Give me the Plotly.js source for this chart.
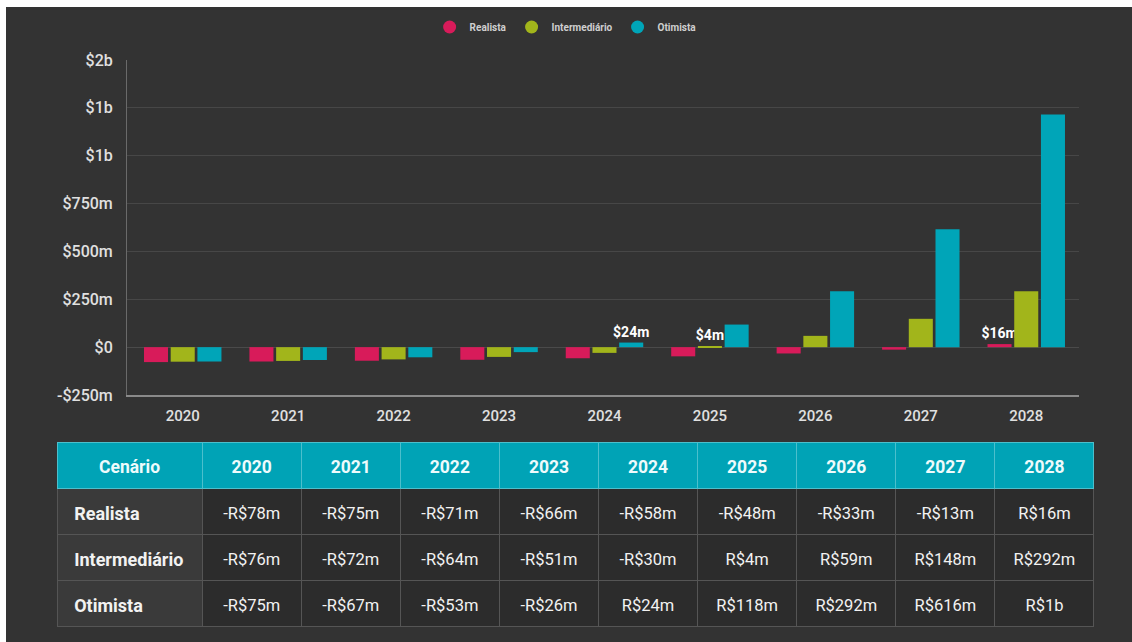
<!DOCTYPE html>
<html>
<head>
<meta charset="utf-8">
<script src="https://cdn.plot.ly/plotly-3.0.1.min.js"></script>
<style>
  html, body { margin: 0; padding: 0; background: #ffffff; width: 1132px; height: 642px; overflow: hidden; }
  #chart { position: absolute; left: 6px; top: 7px; width: 1126px; height: 635px; }
  #chart .scrollbar-kit { display: none !important; }
</style>
</head>
<body>
<div id="chart"></div>
<script>
// ---- data ----
const years = ['2020', '2021', '2022', '2023', '2024', '2025', '2026', '2027', '2028'];
const seriesNames = ['Realista', 'Intermediário', 'Otimista'];
const realista = [-78e6, -75e6, -71e6, -66e6, -58e6, -48e6, -33e6, -13e6, 16e6];
const intermediario = [-76e6, -72e6, -64e6, -51e6, -30e6, 4e6, 59e6, 148e6, 292e6];
const otimista = [-75e6, -67e6, -53e6, -26e6, 24e6, 118e6, 292e6, 616e6, 1215e6];
const barLabelsRealista = ['', '', '', '', '', '', '', '', '$16m'];
const barLabelsIntermediario = ['', '', '', '', '', '$4m', '', '', ''];
const barLabelsOtimista = ['', '', '', '', '$24m', '', '', '', ''];
const yTickVals = [-250e6, 0, 250e6, 500e6, 750e6, 1000e6, 1250e6, 1500e6];
const yTickText = ['-$250m', '$0', '$250m', '$500m', '$750m', '$1b', '$1b', '$2b'];
const tableHeader = ['Cenário', '2020', '2021', '2022', '2023', '2024', '2025', '2026', '2027', '2028'];
const tableRealista = ['-R$78m', '-R$75m', '-R$71m', '-R$66m', '-R$58m', '-R$48m', '-R$33m', '-R$13m', 'R$16m'];
const tableIntermediario = ['-R$76m', '-R$72m', '-R$64m', '-R$51m', '-R$30m', 'R$4m', 'R$59m', 'R$148m', 'R$292m'];
const tableOtimista = ['-R$75m', '-R$67m', '-R$53m', '-R$26m', 'R$24m', 'R$118m', 'R$292m', 'R$616m', 'R$1b'];

const colors = ['#d81b5a', '#a2b51b', '#00a5b8'];
const FONT = 'Roboto, "Noto Sans", sans-serif';

function barTrace(name, values, labels, color) {
  return {
    type: 'bar', name: name, x: years, y: values,
    marker: { color: color },
    text: labels, textposition: 'outside', cliponaxis: false, constraintext: 'none',
    textfont: { family: FONT, size: 14, color: '#ffffff', weight: 'bold' },
    showlegend: false, hoverinfo: 'x+y+name'
  };
}
function legendTrace(name, color) {
  return {
    type: 'scatter', mode: 'markers', name: name, x: [years[0]], y: [null],
    marker: { color: color, size: 13, symbol: 'circle' }, hoverinfo: 'skip'
  };
}

const PAD = '\u2002';
const nameCol = seriesNames.map(s => PAD + '<b>' + s + '</b>');
const yearCols = years.map((_, i) => [tableRealista[i], tableIntermediario[i], tableOtimista[i]]);
const blank3 = ['', '', ''];
const colWidths = [145].concat(years.map(() => 99));
const clear = 'rgba(0,0,0,0)';

function textTable(yDomain, headerValues, cellCols, sizes) {
  return {
    type: 'table',
    domain: { x: [0, 1], y: yDomain },
    columnwidth: colWidths,
    header: {
      values: headerValues,
      fill: { color: clear }, line: { color: clear, width: 0 },
      align: 'center', height: 46,
      font: { family: FONT, size: 17.5, color: '#eefbfc' }
    },
    cells: {
      values: cellCols,
      fill: { color: clear }, line: { color: clear, width: 0 },
      align: ['left'].concat(years.map(() => 'center')), height: 46,
      font: { family: FONT, size: sizes, color: '#f2f2f2' }
    },
    hoverinfo: 'skip'
  };
}

const data = [
  barTrace(seriesNames[0], realista, barLabelsRealista, colors[0]),
  barTrace(seriesNames[1], intermediario, barLabelsIntermediario, colors[1]),
  barTrace(seriesNames[2], otimista, barLabelsOtimista, colors[2]),
  legendTrace(seriesNames[0], colors[0]),
  legendTrace(seriesNames[1], colors[1]),
  legendTrace(seriesNames[2], colors[2]),
  // table grid (fills and lines)
  {
    type: 'table',
    domain: { x: [0, 1], y: [0.0173, 0.3374] },
    columnwidth: colWidths,
    header: {
      values: tableHeader.map(() => ''),
      fill: { color: '#00a3b6' },
      line: { color: '#4cbfcc', width: 1 },
      height: 46
    },
    cells: {
      values: [blank3].concat(years.map(() => blank3)),
      fill: { color: ['#3a3a3a'].concat(years.map(() => '#2c2c2c')) },
      line: { color: '#555555', width: 1 },
      height: 46
    },
    hoverinfo: 'skip'
  },
  // header and scenario names
  textTable([0.0069, 0.327], tableHeader.map(h => '<b>' + h + '</b>'),
            [nameCol].concat(years.map(() => blank3)), 18),
  // yearly values
  textTable([0, 0.3201], tableHeader.map(() => ''),
            [blank3].concat(yearCols), 16.5)
];

const layout = {
  width: 1126, height: 635,
  paper_bgcolor: '#333333', plot_bgcolor: '#333333',
  margin: { l: 51, r: 38, t: 53, b: 4 },
  font: { family: FONT, color: '#e0e0e0' },
  barmode: 'group', bargap: 0.24, bargroupgap: 0.1,
  showlegend: true,
  legend: {
    orientation: 'h', xref: 'container', yref: 'container',
    x: 0.497, xanchor: 'center', y: 0.9685, yanchor: 'middle',
    font: { family: FONT, size: 10, color: '#cfcfcf', weight: 'bold' },
    bgcolor: 'rgba(0,0,0,0)', itemclick: false
  },
  xaxis: {
    type: 'category', domain: [0.0675, 0.9855],
    showgrid: false, showline: true, linecolor: '#8a8a8a', linewidth: 2,
    ticks: '', ticklabelstandoff: 6,
    tickfont: { family: FONT, size: 15, color: '#e0e0e0', weight: 500 },
    fixedrange: true
  },
  yaxis: {
    domain: [0.4204, 1], range: [-250e6, 1500e6],
    tickvals: yTickVals, ticktext: yTickText,
    showgrid: true, gridcolor: '#474747', gridwidth: 1,
    zeroline: true, zerolinecolor: '#4a4a4a', zerolinewidth: 1,
    showline: true, linecolor: '#6a6a6a', linewidth: 1,
    ticks: '', ticklabelstandoff: 10,
    tickfont: { family: FONT, size: 16, color: '#e0e0e0', weight: 500 },
    fixedrange: true
  }
};

Plotly.newPlot('chart', data, layout, { displayModeBar: false });
</script>
</body>
</html>
